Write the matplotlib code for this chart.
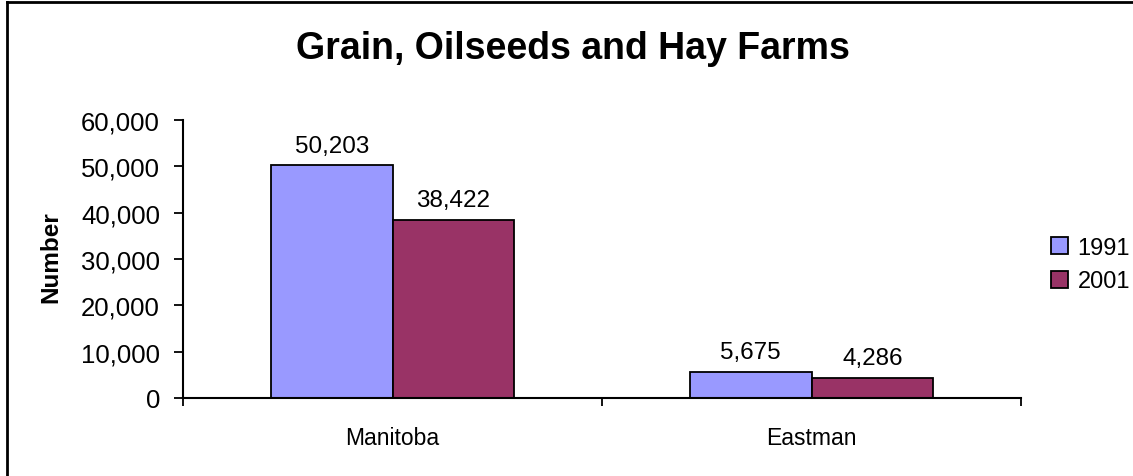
import numpy as np
import matplotlib
matplotlib.use("Agg")
import matplotlib.pyplot as plt
from matplotlib.lines import Line2D
from matplotlib.ticker import StrMethodFormatter

plt.rcParams['font.family'] = ['Liberation Sans', 'DejaVu Sans']

# Datos
regions = ["Manitoba", "Eastman"]
years = ["1991", "2001"]
farms_1991 = [50203, 5675]
farms_2001 = [38422, 4286]
y_ticks = [0, 10000, 20000, 30000, 40000, 50000, 60000]

COLORS = {"1991": "#9999FF", "2001": "#993366"}

W, H = 1133, 477
fig = plt.figure(figsize=(W / 100, H / 100), dpi=100)
ax = fig.add_axes([183 / W, 1 - 399 / H, (1021 - 183) / W, (399 - 121) / H])

x = np.arange(len(regions))
bw = 0.29
series = {"1991": farms_1991, "2001": farms_2001}
for i, yr in enumerate(years):
    vals = series[yr]
    bars = ax.bar(x + (i - 0.5) * bw, vals, width=bw, color=COLORS[yr],
                  edgecolor="black", linewidth=1.3, label=yr)
    for b, v in zip(bars, vals):
        ax.annotate(f"{v:,}", (b.get_x() + b.get_width() / 2, v),
                    xytext=(0, 10), textcoords="offset points",
                    ha="center", va="baseline", fontsize=17.5)

ax.set_xlim(-0.5, 1.5)
ax.set_ylim(0, 60000)
ax.set_yticks(y_ticks)
ax.yaxis.set_major_formatter(StrMethodFormatter("{x:,.0f}"))
ax.tick_params(axis="y", labelsize=18.5, length=6.5, width=1.3, pad=10, direction="out")

# etiquetas de categoría centradas, marcas en los límites
ax.set_xticks(x)
ax.set_xticklabels(regions)
ax.tick_params(axis="x", which="major", length=0, labelsize=16.5, pad=20)
ax.set_xticks([-0.5, 0.5, 1.5], minor=True)
ax.tick_params(axis="x", which="minor", length=6, width=1.3, direction="out")

for s in ["top", "right"]:
    ax.spines[s].set_visible(False)
for s in ["left", "bottom"]:
    ax.spines[s].set_linewidth(1.5)

fig.text(51 / W, 1 - 257.5 / H, "Number", rotation=90, ha="center", va="center",
         fontsize=17.5, fontweight="bold")
fig.text(573 / W, 1 - 59 / H, "Grain, Oilseeds and Hay Farms", ha="center",
         va="baseline", fontsize=27, fontweight="bold")

fig.legend(loc="center left", bbox_to_anchor=(1051 / W, 1 - 265.5 / H),
           frameon=False, fontsize=17, handlelength=0.72, handleheight=0.72,
           handletextpad=0.4, labelspacing=0.5, borderpad=0, borderaxespad=0)

# marco exterior (solo visibles los bordes izquierdo y superior)
fx, fy = 7 / W, 1 - 3 / H
fig.add_artist(Line2D([fx, fx], [0, fy], transform=fig.transFigure,
                      color="black", linewidth=2, solid_capstyle="projecting"))
fig.add_artist(Line2D([fx, 1], [fy, fy], transform=fig.transFigure,
                      color="black", linewidth=2, solid_capstyle="projecting"))

fig.savefig("out.png", dpi=100)
